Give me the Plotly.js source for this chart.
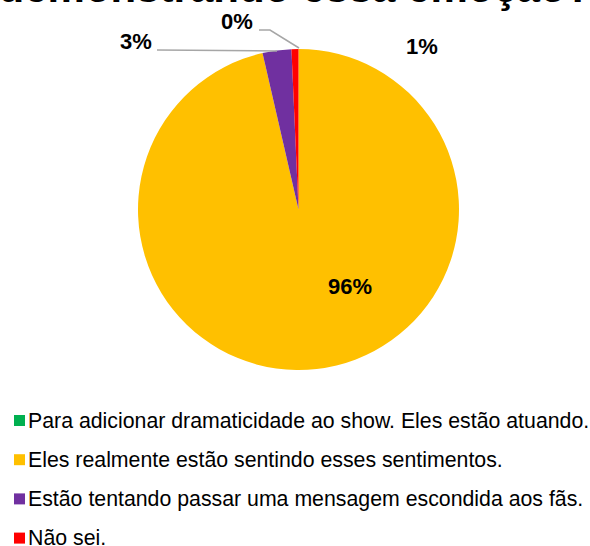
<!DOCTYPE html>
<html>
<head>
<meta charset="utf-8">
<script src="https://cdn.plot.ly/plotly-3.0.1.min.js"></script>
<style>html,body{margin:0;padding:0;background:#fff;}#chart{width:590px;height:546px;}</style>
</head>
<body>
<div id="chart"></div>
<script>
// ---- data ----
const titleText = 'demonstrando essa emoção?';
const categories = [
  'Para adicionar dramaticidade ao show. Eles estão atuando.',
  'Eles realmente estão sentindo esses sentimentos.',
  'Estão tentando passar uma mensagem escondida aos fãs.',
  'Não sei.'
];
const percentValues = [0, 96.4, 2.9, 0.7];
const sliceColors = ['#00B050', '#FFC000', '#7030A0', '#FF0000'];

// ---- layout helpers (pixel -> paper) ----
const W = 590, H = 546;
const px = x => x / W;
const py = y => 1 - y / H;
const FONT = 'Arial, "Liberation Sans", sans-serif';

const total = percentValues.reduce((a, b) => a + b, 0);
const pctText = percentValues.map(v => '<b>' + Math.round(v / total * 100) + '%</b>');

// data label positions (pixels) for each slice
const labelPos = [[237, 22], [350, 286], [136, 42], [422, 46]];

const annotations = [];
const shapes = [];
labelPos.forEach((p, i) => {
  annotations.push({
    xref: 'paper', yref: 'paper', x: px(p[0]), y: py(p[1]),
    xanchor: 'center', yanchor: 'middle', showarrow: false,
    text: pctText[i], font: {family: FONT, size: 22, color: '#000'}
  });
});
// leader lines
shapes.push({type: 'path', xref: 'paper', yref: 'paper',
  path: `M${px(259)},${py(30)} L${px(270)},${py(30)} L${px(299)},${py(48)}`,
  line: {color: '#A6A6A6', width: 1.5}});
shapes.push({type: 'path', xref: 'paper', yref: 'paper',
  path: `M${px(157)},${py(50)} L${px(277)},${py(51)}`,
  line: {color: '#A6A6A6', width: 1.5}});

// custom legend
categories.forEach((c, i) => {
  const cy = 420.5 + 39.2 * i;
  shapes.push({type: 'rect', xref: 'paper', yref: 'paper',
    x0: px(14), x1: px(25), y0: py(cy - 5.5), y1: py(cy + 5.5),
    fillcolor: sliceColors[i], line: {width: 0}});
  annotations.push({xref: 'paper', yref: 'paper', x: px(26), y: py(cy),
    xanchor: 'left', yanchor: 'middle', showarrow: false,
    text: c, font: {family: FONT, size: 21.3, color: '#000'}});
});

const trace = {
  type: 'pie',
  labels: categories,
  values: percentValues,
  marker: {colors: sliceColors, line: {width: 0}},
  sort: false,
  direction: 'clockwise',
  rotation: 0,
  textinfo: 'none',
  showlegend: false,
  domain: {x: [px(138), px(459)], y: [py(370), py(49)]}
};

const layout = {
  width: W, height: H,
  margin: {l: 0, r: 0, t: 0, b: 0},
  paper_bgcolor: '#fff',
  title: {
    text: '<b>' + titleText + '</b>',
    font: {family: FONT, size: 42, color: '#000'},
    xref: 'container', yref: 'container',
    x: 0.5, xanchor: 'center',
    y: py(2), yanchor: 'bottom'
  },
  annotations: annotations,
  shapes: shapes
};

Plotly.newPlot('chart', [trace], layout, {displayModeBar: false, staticPlot: true});
</script>
</body>
</html>
